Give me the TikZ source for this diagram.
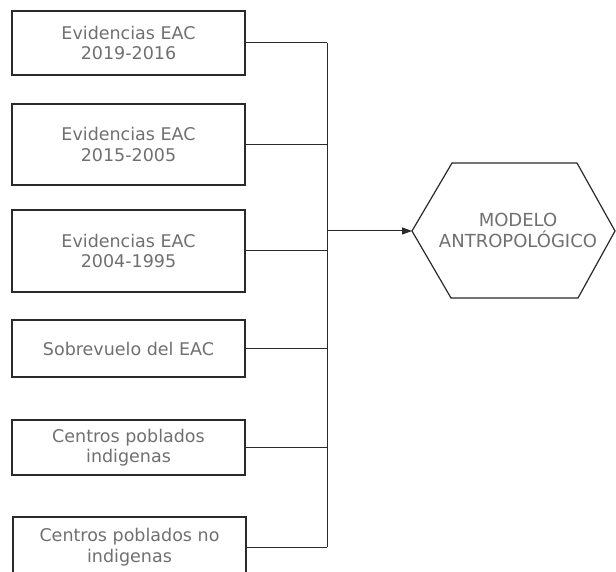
\documentclass[tikz,border=0pt]{standalone}
\usepackage{fontspec}
\setmainfont{DejaVu Sans}
\usetikzlibrary{arrows.meta}
\definecolor{txt}{HTML}{707070}
\definecolor{ln}{HTML}{2A2A2A}
\begin{document}
\begin{tikzpicture}[x=1pt,y=-1pt,
  srcbox/.style={draw=ln, line width=1.2pt, minimum width=233pt, inner sep=0pt,
    align=center, text=txt, font=\fontsize{17.5}{20.5}\selectfont},
  conn/.style={draw=ln, line width=1pt},
  hexline/.style={draw=ln, line width=1.2pt, line join=miter},
  hextext/.style={align=center, text=txt, font=\fontsize{18}{21}\selectfont}]
\useasboundingbox (0,0) rectangle (616,572);
\clip (0,0) rectangle (616,572);
\fill[white] (0,0) rectangle (616,572);
% source boxes
\node[srcbox, minimum height=64pt] (b1) at (128.5,43) {Evidencias EAC\\2019-2016};
\node[srcbox, minimum height=81pt] (b2) at (128.5,144.5) {Evidencias EAC\\2015-2005};
\node[srcbox, minimum height=82pt] (b3) at (128.5,251) {Evidencias EAC\\2004-1995};
\node[srcbox, minimum height=57pt] (b4) at (128.5,348.5) {Sobrevuelo del EAC};
\node[srcbox, minimum height=55pt] (b5) at (128.5,447.5) {Centros poblados\\indigenas};
\node[srcbox, minimum height=60pt] (b6) at (129.5,547) {Centros poblados no\\indigenas};
% hexagon
\coordinate (hw) at (412,231);
\coordinate (htl) at (452,163);
\coordinate (htr) at (577,163);
\coordinate (he) at (615,231);
\coordinate (hbr) at (578,298);
\coordinate (hbl) at (451,298);
\draw[hexline] (hw) -- (htl) -- (htr) -- (he) -- (hbr) -- (hbl) -- cycle;
\node[hextext] (hex) at (518,230) {MODELO\\ANTROPOLÓGICO};
% trunk
\coordinate (t) at (327,0);
\draw[conn] (b1.east) -- (b1.east -| t);
\draw[conn] (b2.east) -- (b2.east -| t);
\draw[conn] (b3.east) -- (b3.east -| t);
\draw[conn] (b4.east) -- (b4.east -| t);
\draw[conn] (b5.east) -- (b5.east -| t);
\draw[conn] (b6.east) -- (b6.east -| t);
\draw[conn] (b1.east -| t) -- (b6.east -| t);
\draw[conn, -{Triangle[length=10pt,width=7pt]}] (hw -| t) -- (hw);
\end{tikzpicture}
\end{document}
